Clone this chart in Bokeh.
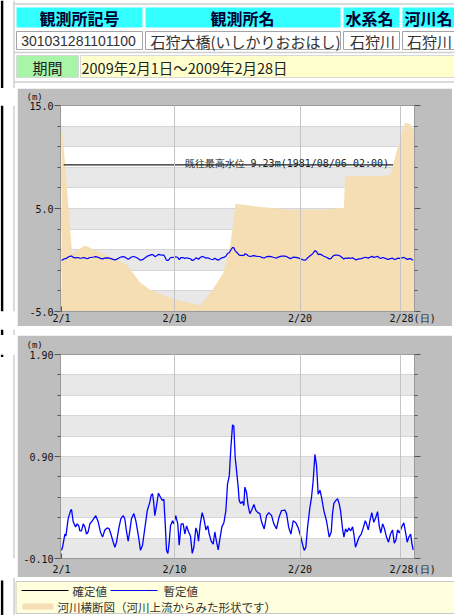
import numpy as np
from bokeh.plotting import figure
from bokeh.layouts import column, row
from bokeh.models import Range1d, FixedTicker, LinearAxis, Label, BoxAnnotation, Spacer
from bokeh.core.properties import value
from bokeh.embed import file_html
from bokeh.resources import INLINE

# ---------------- data ----------------
header_labels = ["観測所記号", "観測所名", "水系名", "河川名"]
station_values = ["301031281101100", "石狩大橋(いしかりおおはし)", "石狩川", "石狩川"]
period_label = "期間"
period_text = "2009年2月1日～2009年2月28日"

day_ticks = [0, 9, 19, 27]
day_tick_labels = ["2/1", "2/10", "2/20", "2/28"]
day_unit = "(日)"
level_unit = "(m)"

top_major_ticks = [-5.0, 5.0, 15.0]
top_major_labels = ["-5.0", "5.0", "15.0"]
low_major_ticks = [-0.10, 0.90, 1.90]
low_major_labels = ["-0.10", "0.90", "1.90"]

record_level = 9.23
record_text = "既往最高水位 9.23m(1981/08/06 02:00)"
record_span = [0.18, 26.4]

# river cross-section (drawn on the same horizontal scale)
section_day = [0.0, 0.08, 0.85, 1.86, 5.18, 6.24, 7.04, 9.03, 11.07, 12.08, 12.87,
               13.41, 13.86, 15.53, 18.19, 20.84, 22.49, 22.57, 26.15, 27.35, 27.74, 28.06]
section_elev = [12.4, 12.4, 0.6, 1.4, -0.44, -2.16, -2.9, -3.84, -4.42, -2.8, -1.3,
                1.2, 5.45, 5.2, 4.87, 4.87, 5.07, 8.1, 8.2, 13.3, 13.2, 12.5]

# provisional water level (m), day offset from 2/1 00:00
wl_day = [0.00, 0.08, 0.27, 0.35, 0.53, 0.72, 0.80, 0.93, 1.12, 1.25, 1.38, 1.46, 1.59, 1.73,
          1.86, 1.99, 2.12, 2.26, 2.39, 2.57, 2.73, 2.92, 3.10, 3.27, 3.45, 3.64, 3.80, 3.93,
          4.12, 4.25, 4.38, 4.57, 4.73, 4.91, 5.04, 5.18, 5.31, 5.44, 5.57, 5.76, 5.92, 6.10,
          6.29, 6.45, 6.64, 6.83, 7.03, 7.14, 7.25, 7.35, 7.43, 7.57, 7.72, 7.88, 8.04, 8.15,
          8.26, 8.36, 8.47, 8.57, 8.68, 8.84, 8.94, 9.10, 9.26, 9.37, 9.53, 9.69, 9.82, 9.96,
          10.12, 10.27, 10.41, 10.54, 10.70, 10.81, 10.91, 11.05, 11.20, 11.34, 11.50, 11.65,
          11.76, 11.92, 12.08, 12.21, 12.35, 12.48, 12.61, 12.77, 12.93, 13.09, 13.22, 13.36,
          13.49, 13.62, 13.72, 13.83, 13.99, 14.07, 14.15, 14.26, 14.42, 14.52, 14.60, 14.73,
          14.86, 15.00, 15.13, 15.32, 15.48, 15.64, 15.80, 15.93, 16.14, 16.33, 16.51, 16.73,
          16.91, 17.12, 17.31, 17.52, 17.79, 17.92, 18.10, 18.27, 18.45, 18.66, 18.85, 19.03,
          19.19, 19.33, 19.46, 19.59, 19.78, 19.91, 20.04, 20.18, 20.31, 20.44, 20.58, 20.71,
          20.89, 21.10, 21.32, 21.48, 21.58, 21.69, 21.85, 21.98, 22.11, 22.22, 22.38, 22.49,
          22.62, 22.75, 22.88, 23.02, 23.18, 23.28, 23.41, 23.55, 23.70, 23.87, 24.03, 24.19,
          24.29, 24.43, 24.56, 24.71, 24.87, 25.03, 25.17, 25.30, 25.43, 25.57, 25.70, 25.88,
          26.04, 26.20, 26.36, 26.50, 26.63, 26.76, 26.90, 27.00, 27.13, 27.26, 27.39, 27.53,
          27.66, 27.80, 27.90, 28.00]
wl_m = [-0.02, 0.01, 0.14, 0.12, 0.29, 0.37, 0.38, 0.26, 0.21, 0.24, 0.22, 0.17, 0.17, 0.24,
        0.21, 0.14, 0.16, 0.24, 0.26, 0.29, 0.32, 0.26, 0.16, 0.11, 0.18, 0.20, 0.19, 0.14,
        0.06, 0.01, 0.06, 0.20, 0.29, 0.32, 0.29, 0.16, 0.07, 0.17, 0.29, 0.34, 0.27, 0.14,
        -0.02, 0.03, 0.20, 0.37, 0.45, 0.52, 0.535, 0.44, 0.32, 0.42, 0.54, 0.50, 0.47, 0.48,
        0.24, -0.02, -0.05, 0.05, 0.22, 0.27, 0.24, 0.32, 0.24, 0.03, 0.24, 0.24, 0.14, 0.22,
        0.16, 0.12, -0.05, 0.01, 0.20, 0.16, 0.07, 0.24, 0.35, 0.29, 0.18, 0.22,
        0.14, 0.07, 0.04, 0.16, 0.06, -0.015, 0.09, 0.21, 0.25, 0.37, 0.63, 0.71,
        0.99, 1.21, 1.20, 0.89, 0.70, 0.60, 0.47, 0.44, 0.46, 0.42, 0.60, 0.55,
        0.42, 0.34, 0.37, 0.43, 0.37, 0.35, 0.34, 0.26, 0.19, 0.32, 0.35, 0.32,
        0.24, 0.19, 0.30, 0.37, 0.375, 0.34, 0.20, 0.14, 0.27, 0.25, 0.20, 0.125,
        0.04, -0.02, 0.01, 0.20, 0.40, 0.50, 0.66, 0.92, 0.81, 0.53, 0.57, 0.50,
        0.37, 0.27, 0.11, 0.16, 0.34, 0.44, 0.47, 0.485, 0.44, 0.37, 0.19, 0.11,
        0.19, 0.16, 0.20, 0.17, 0.21, 0.14, 0.01, 0.06, 0.11, 0.14, 0.20, 0.27,
        0.24, 0.18, 0.27, 0.35, 0.255, 0.305, 0.36, 0.22, 0.15, 0.24, 0.20, 0.11,
        0.06, 0.14, 0.18, 0.05, 0.08, 0.18, 0.15, 0.18, 0.22, 0.25, 0.16, 0.06,
        0.11, 0.14, 0.05, -0.015]

legend_labels = ["確定値", "暫定値", "河川横断図（河川上流からみた形状です）"]

# ---------------- styles ----------------
PANEL = "#bebebe"
BAND = "#e8e8e8"
HGRID = "#d6d6d6"
VGRID = "#c4c4c4"
TICKC = "#555555"
EDGE = "#9a9a9a"
MONO = "DejaVu Sans Mono"
JP = "Noto Sans CJK JP"
WATER = "#0000ff"
SECTION = "#f5deb3"
FRAME_LINE = "#cfcfcf"
NBSP = "\u00a0"


def pix_fig(w, h):
    p = figure(width=w, height=h, x_range=Range1d(0, w), y_range=Range1d(h, 0),
               output_backend="svg", toolbar_location=None, min_border=0,
               x_axis_location=None, y_axis_location=None,
               background_fill_color="white", border_fill_color="white",
               outline_line_color=None)
    p.xgrid.visible = False
    p.ygrid.visible = False
    return p


def page_edges(p, h, black_from, black_to):
    p.quad(left=[0.3], right=[2.8], top=[black_from], bottom=[black_to],
           fill_color="black", line_color=None)
    p.segment(x0=[13.5], y0=[0], x1=[13.5], y1=[h], line_color=FRAME_LINE, line_width=1.5)


def make_chart(h, y0, y1, majors, major_labels, top, bottom, standoff, title_standoff):
    p = figure(width=435, height=h, x_range=Range1d(-0.08, 28.11), y_range=Range1d(y0, y1),
               output_backend="svg", toolbar_location=None,
               min_border_left=43, min_border_right=38, min_border_top=top,
               min_border_bottom=bottom, background_fill_color="white",
               border_fill_color=PANEL, outline_line_color=EDGE)
    # unit of the vertical axis, shown top-left above the tick labels
    p.title.text = level_unit
    p.title.align = "left"
    p.title.vertical_align = "top"
    p.title.offset = -34
    p.title.standoff = title_standoff
    p.title.text_font = MONO
    p.title.text_font_size = "9px"
    p.title.text_font_style = "normal"
    p.title.text_color = "#111111"

    edges = np.linspace(y0, y1, 11)
    minors = [float(e) for e in edges[1:-1] if not any(abs(e - m) < 1e-9 for m in majors)]
    for b0, b1 in zip(edges[0::2], edges[1::2]):
        p.add_layout(BoxAnnotation(bottom=float(b0), top=float(b1), fill_color=BAND,
                                   fill_alpha=1.0, line_color=None, level="image"))
    p.ygrid.ticker = FixedTicker(ticks=[float(e) for e in edges])
    p.ygrid.grid_line_color = HGRID
    p.xgrid.ticker = FixedTicker(ticks=day_ticks[1:])
    p.xgrid.grid_line_color = VGRID
    p.xgrid.level = "annotation"

    yax = p.yaxis[0]
    yax.ticker = FixedTicker(ticks=majors, minor_ticks=minors)
    yax.major_label_overrides = dict(zip(majors, major_labels))
    yax.major_tick_out = 6
    yax.major_tick_in = 0
    yax.minor_tick_out = 3
    yax.minor_tick_in = 0
    yax.major_label_standoff = 1
    yax.major_label_text_font = MONO
    yax.major_label_text_font_size = "10px"
    yax.major_label_text_color = "#111111"
    yax.axis_line_color = EDGE
    yax.major_tick_line_color = TICKC
    yax.minor_tick_line_color = TICKC

    rax = LinearAxis(ticker=FixedTicker(ticks=majors, minor_ticks=minors),
                     major_tick_out=6, major_tick_in=0, minor_tick_out=3, minor_tick_in=0,
                     major_label_text_color=None, axis_line_color=EDGE,
                     major_tick_line_color=TICKC, minor_tick_line_color=TICKC)
    p.add_layout(rax, "right")

    # last day label carries the unit of the horizontal axis right after it
    x_labels = list(day_tick_labels)
    x_labels[-1] = NBSP * 4 + x_labels[-1] + day_unit
    xax = p.xaxis[0]
    xax.ticker = FixedTicker(ticks=day_ticks)
    xax.major_label_overrides = dict(zip(day_ticks, x_labels))
    xax.major_tick_in = 5
    xax.major_tick_out = 0
    xax.minor_tick_in = 0
    xax.minor_tick_out = 0
    xax.major_label_standoff = standoff
    xax.major_label_text_font = MONO
    xax.major_label_text_font_size = "10px"
    xax.major_label_text_color = "#111111"
    xax.axis_line_color = EDGE
    xax.major_tick_line_color = TICKC
    return p


# ---------------- header ----------------
hdr = pix_fig(454, 88)
page_edges(hdr, 88, 0, 88)
hdr.segment(x0=[13.5, 13.5, 13.5], y0=[3.5, 52, 81.5], x1=[454, 454, 454], y1=[3.5, 52, 81.5],
            line_color=FRAME_LINE, line_width=1.5)
cell_l = [16, 145, 343, 402]
cell_r = [142, 340, 399, 470]
hdr.quad(left=cell_l, right=cell_r, top=7, bottom=27, fill_color="#33ffff", line_color=None)
hdr.quad(left=cell_l, right=cell_r, top=31, bottom=49, fill_color="white", line_color="#a4a4a4")
hdr.text(x=[79, 242, 369, 428], y=[17] * 4, text=header_labels,
         text_font=value(JP), text_font_style="bold", text_font_size="16px",
         text_color="#000033", text_align="center", text_baseline="middle")
hdr.text(x=[78], y=[40.5], text=station_values[:1], text_font=value("Liberation Sans"),
         text_font_size="14px", text_color="#333333", text_align="center", text_baseline="middle")
hdr.text(x=[245, 372, 429], y=[40.5] * 3, text=station_values[1:], text_font=value(JP),
         text_font_size="15px", text_color="#333333", text_align="center", text_baseline="middle")
hdr.quad(left=[16], right=[78], top=[55], bottom=[77], fill_color="#a8f4a8", line_color="#d8d8d8")
hdr.quad(left=[80], right=[470], top=[55], bottom=[77], fill_color="#ffffcc", line_color="#d8d8d8")
hdr.text(x=[47], y=[66.5], text=[period_label], text_font=value(JP), text_font_size="15px",
         text_color="#222222", text_align="center", text_baseline="middle")
hdr.text(x=[81], y=[66.5], text=[period_text], text_font=value(JP), text_font_size="14.5px",
         text_color="#222222", text_align="left", text_baseline="middle")

# ---------------- chart 1: river level + cross section ----------------
c1 = make_chart(238, -5.0, 15.0, top_major_ticks, top_major_labels, 17, 15, 1, 4)
c1.varea(x=section_day, y1=-5.0, y2=section_elev, fill_color=SECTION, fill_alpha=1.0)
c1.line(x=record_span, y=[record_level, record_level], line_color="#222222", line_width=1.3)
c1.add_layout(Label(x=record_span[1], y=record_level, x_offset=-4, y_offset=1.5,
                    text=record_text, text_font=MONO, text_font_size="10px",
                    text_color="#222222", text_align="right", text_baseline="alphabetic"))
c1.line(x=wl_day, y=wl_m, line_color=WATER, line_width=1.2)

left1 = pix_fig(17, 238)
page_edges(left1, 238, 0, 238)

sep = pix_fig(454, 9)
page_edges(sep, 9, 0, 9)

# ---------------- chart 2: zoomed river level ----------------
c2 = make_chart(242, -0.10, 1.90, low_major_ticks, low_major_labels, 19, 19, 5, 6)
c2.line(x=wl_day, y=wl_m, line_color=WATER, line_width=1.3)

left2 = pix_fig(17, 242)
page_edges(left2, 242, 0, 3)

# ---------------- legend ----------------
leg = pix_fig(454, 38)
page_edges(leg, 38, 3, 38)
leg.quad(left=[15.5], right=[470], top=[4], bottom=[36], fill_color="#ffffdd", line_color="#c8c8c8")
leg.segment(x0=[21], y0=[13], x1=[68], y1=[13], line_color="black", line_width=1)
leg.segment(x0=[110], y0=[13], x1=[157], y1=[13], line_color=WATER, line_width=1)
leg.quad(left=[22], right=[53], top=[26], bottom=[32], fill_color=SECTION, line_color=None)
leg.text(x=[72, 163, 57], y=[13.5, 13.5, 29], text=legend_labels, text_font=value(JP),
         text_font_size="11.5px", text_color="#333333", text_align="left", text_baseline="middle")

layout = column(hdr,
                row(left1, c1, Spacer(width=2, height=238)),
                sep,
                row(left2, c2, Spacer(width=2, height=242)),
                leg)

open("out.html", "w").write(file_html(layout, INLINE))
